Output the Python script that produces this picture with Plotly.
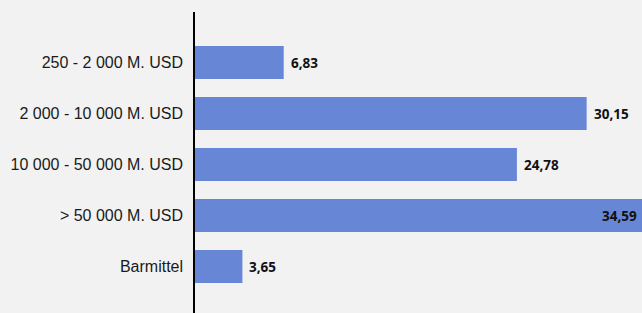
import plotly.graph_objects as go

categories = ["250 - 2 000 M. USD", "2 000 - 10 000 M. USD", "10 000 - 50 000 M. USD",
              "> 50 000 M. USD", "Barmittel"]
values = [6.83, 30.15, 24.78, 34.59, 3.65]
labels = ["6,83", "30,15", "24,78", "34,59", "3,65"]

XMAX = 34.41
BAR_COLOR = "#6787d6"
BG = "#f2f2f2"

fig = go.Figure()
fig.add_trace(go.Bar(
    x=values, y=categories, orientation="h",
    marker=dict(color=BAR_COLOR, line=dict(width=0)),
    width=0.647, hoverinfo="skip",
))

annotations = []
for cat, v, lab in zip(categories, values, labels):
    font = dict(family="Open Sans", size=13.5, color="#111111")
    if v > XMAX * 0.97:
        annotations.append(dict(x=XMAX, y=cat, text="<b>" + lab + "</b>", showarrow=False,
                                xanchor="right", xshift=-3, yanchor="middle",
                                font=font, xref="x", yref="y"))
    else:
        annotations.append(dict(x=v, y=cat, text="<b>" + lab + "</b>", showarrow=False,
                                xanchor="left", xshift=5, yanchor="middle",
                                font=font, xref="x", yref="y"))

fig.update_layout(
    width=642, height=313,
    margin=dict(l=195, r=0, t=12, b=0),
    paper_bgcolor=BG, plot_bgcolor=BG,
    showlegend=False,
    annotations=annotations,
    xaxis=dict(range=[0, XMAX], visible=False, fixedrange=True),
    yaxis=dict(type="category", categoryorder="array", categoryarray=categories,
               range=[4.91, -0.99], showline=True, linecolor="#000000", linewidth=1.5,
               ticks="", ticklabelstandoff=7, showgrid=False, zeroline=False,
               tickfont=dict(family="Liberation Sans", size=16, color="#1a1a1a")),
)

fig.write_html("out.html", config={"displayModeBar": False},
               post_script="document.body.style.margin='0';document.body.style.overflow='hidden';")
